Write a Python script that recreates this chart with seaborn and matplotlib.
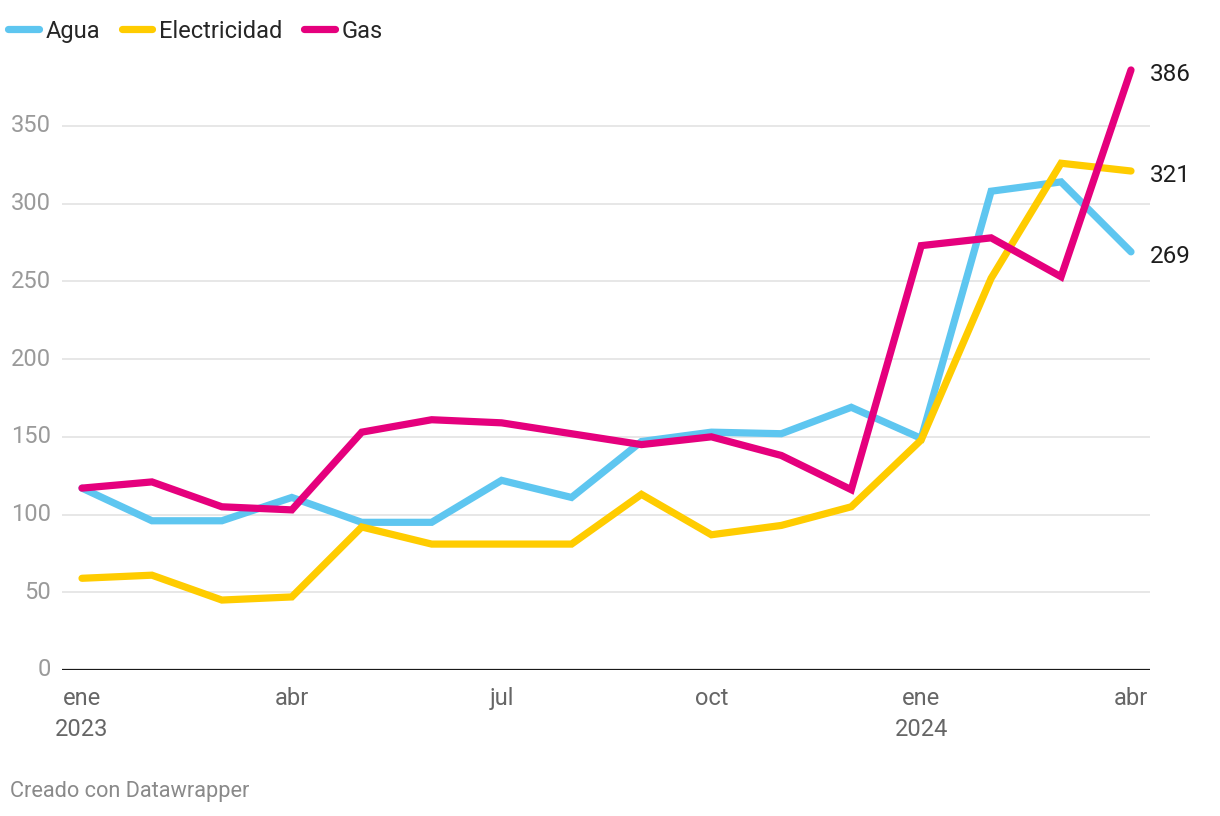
import numpy as np
import pandas as pd
import matplotlib
matplotlib.use("Agg")
import matplotlib.pyplot as plt
import seaborn as sns

# Data (monthly index, ene 2023 - abr 2024)
MONTHS = ["2023-01", "2023-02", "2023-03", "2023-04", "2023-05", "2023-06",
          "2023-07", "2023-08", "2023-09", "2023-10", "2023-11", "2023-12",
          "2024-01", "2024-02", "2024-03", "2024-04"]
AGUA = [117, 96, 96, 111, 95, 95, 122, 111, 147, 153, 152, 169, 149, 308, 314, 269]
ELECTRICIDAD = [59, 61, 45, 47, 92, 81, 81, 81, 113, 87, 93, 105, 148, 252, 326, 321]
GAS = [117, 121, 105, 103, 153, 161, 159, 152, 145, 150, 138, 116, 273, 278, 253, 386]

SERIES = ["Agua", "Electricidad", "Gas"]
COLORS = {"Agua": "#5ec6f0", "Electricidad": "#ffcc00", "Gas": "#e5007d"}
XTICK_POS = [0, 3, 6, 9, 12, 15]
XTICK_LABELS = ["ene\n2023", "abr", "jul", "oct", "ene\n2024", "abr"]
YTICKS = [0, 50, 100, 150, 200, 250, 300, 350]

df = pd.DataFrame({
    "month": MONTHS * 3,
    "idx": list(range(len(MONTHS))) * 3,
    "value": AGUA + ELECTRICIDAD + GAS,
    "serie": [s for s in SERIES for _ in MONTHS],
})

sns.set_style("white")
plt.rcParams["font.family"] = ["Roboto", "DejaVu Sans"]

fig = plt.figure(figsize=(12.2, 8.16), dpi=100)
ax = fig.add_axes([62 / 1220, 1 - 670 / 816, (1150 - 62) / 1220, 0.762])

sns.lineplot(data=df, x="idx", y="value", hue="serie", hue_order=SERIES,
             palette=COLORS, linewidth=5.2, ax=ax, legend=False,
             solid_capstyle="round", solid_joinstyle="miter")

ax.set_xlim(-20 / 69.93, 15 + 19 / 69.93)
ax.set_ylim(0, 400)

ax.set_yticks(YTICKS)
ax.set_yticklabels([str(v) for v in YTICKS], fontsize=17, color="#9a9a9a")
ax.set_xticks(XTICK_POS)
ax.set_xticklabels(XTICK_LABELS, fontsize=17, color="#666666", linespacing=1.45)
ax.tick_params(axis="y", length=0, pad=8)
ax.tick_params(axis="x", length=0, pad=12)
for lab in ax.get_yticklabels():
    lab.set_verticalalignment("center")

for v in YTICKS[1:]:
    ax.axhline(v, color="#e3e3e3", linewidth=1.2, zorder=0)
ax.axhline(0, color="#1a1a1a", linewidth=1.6, zorder=1)

for s in ["top", "right", "left", "bottom"]:
    ax.spines[s].set_visible(False)
ax.set_xlabel("")
ax.set_ylabel("")

# end-of-line value labels
last = {"Agua": AGUA[-1], "Electricidad": ELECTRICIDAD[-1], "Gas": GAS[-1]}
for s in SERIES:
    ax.annotate(str(last[s]), xy=(len(MONTHS) - 1, last[s]), xytext=(13.5, -3),
                textcoords="offset points", fontsize=17.5, color="#1d1d1d",
                va="center", ha="left", annotation_clip=False)

# legend
handles = [plt.Line2D([0], [0], color=COLORS[s], linewidth=5.2,
                      solid_capstyle="round") for s in SERIES]
fig.legend(handles, SERIES, loc="upper left", bbox_to_anchor=(-0.009, 0.999),
           ncol=3, frameon=False, fontsize=17, handlelength=1.3,
           handletextpad=0.3, columnspacing=0.9, borderaxespad=0.4)

fig.text(10 / 1220, 1 - 792 / 816, "Creado con Datawrapper", fontsize=15.7,
         color="#8a8a8a", va="center", ha="left")

fig.savefig("out.png", dpi=100)
